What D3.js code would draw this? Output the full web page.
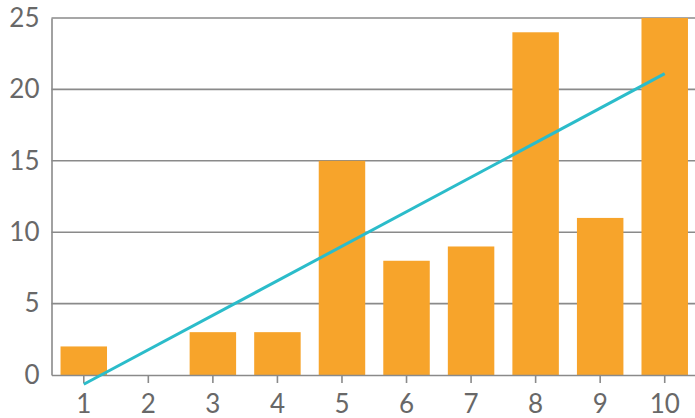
<!DOCTYPE html>
<html><head><meta charset="utf-8">
<script src="https://cdn.jsdelivr.net/npm/d3@7"></script>
<style>html,body{margin:0;padding:0;background:#fff;}svg{display:block;}</style>
</head><body>
<svg id="c" width="695" height="418"></svg>
<script>
const categories = ["1","2","3","4","5","6","7","8","9","10"];
const values = [2, 0, 3, 3, 15, 8, 9, 24, 11, 25];
const trendCats = ["1","10"];
const trendValues = [-0.65, 21.1];
const yTicks = [0, 5, 10, 15, 20, 25];

const svg = d3.select("#c");
const mLeft = 51.5, mRight = 697, mTop = 18, mBottom = 375;
const x = d3.scaleBand().domain(categories).range([mLeft, mRight]).paddingInner(0.28).paddingOuter(0.14);
const y = d3.scaleLinear().domain([0, 25]).range([mBottom, mTop]);

const gridColor = "#8a8a8a", textColor = "#686868", font = "Lato, 'Open Sans', sans-serif";

// gridlines
svg.append("g").selectAll("line").data(yTicks.filter(d => d > 0)).join("line")
  .attr("x1", mLeft).attr("x2", 695).attr("y1", d => y(d)).attr("y2", d => y(d))
  .attr("stroke", gridColor).attr("stroke-width", 1.6);

// y axis
const yAxis = svg.append("g").attr("transform", `translate(${mLeft},0)`)
  .call(d3.axisLeft(y).tickValues(yTicks).tickSize(0).tickPadding(12));
yAxis.select(".domain").attr("stroke", gridColor).attr("stroke-width", 1.6);
yAxis.selectAll("text").attr("font-family", font).attr("font-size", 26).attr("fill", textColor);

// bars
svg.append("g").selectAll("rect").data(categories).join("rect")
  .attr("x", d => x(d)).attr("width", x.bandwidth())
  .attr("y", (d, i) => y(values[i])).attr("height", (d, i) => y(0) - y(values[i]))
  .attr("fill", "#f7a42b");

// x axis
const xAxis = svg.append("g").attr("transform", `translate(0,${mBottom})`)
  .call(d3.axisBottom(x).tickSize(8).tickSizeOuter(0).tickPadding(12));
xAxis.select(".domain").attr("stroke", gridColor).attr("stroke-width", 1.6);
xAxis.selectAll(".tick line").attr("stroke", gridColor).attr("stroke-width", 1.6);
xAxis.selectAll("text").attr("font-family", font).attr("font-size", 26).attr("fill", textColor);

// trend line
const line = d3.line().x((d, i) => x(trendCats[i]) + x.bandwidth() / 2).y(d => y(d));
svg.append("path").datum(trendValues).attr("d", line)
  .attr("fill", "none").attr("stroke", "#2bbcca").attr("stroke-width", 3);
</script>
</body></html>
